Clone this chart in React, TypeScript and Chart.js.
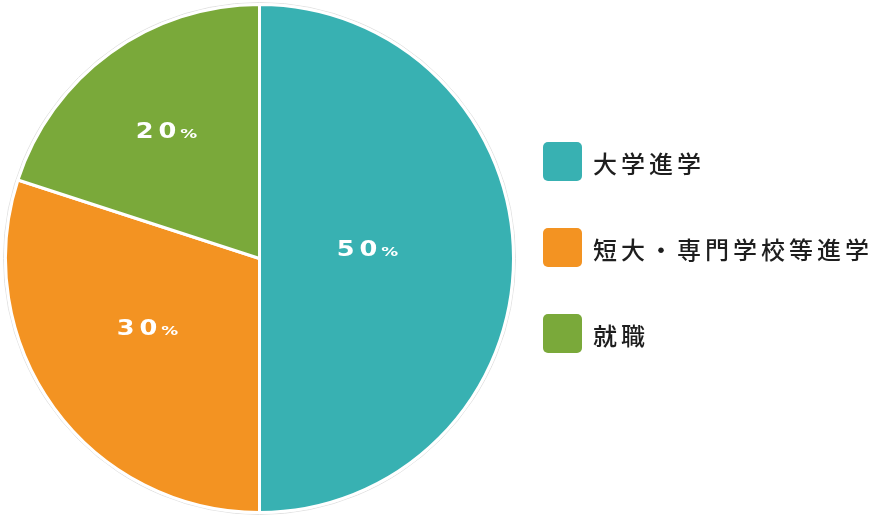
import React, { useEffect, useRef } from "react";
import { Chart, registerables } from "chart.js";

Chart.register(...registerables);

const categories = ["大学進学", "短大・専門学校等進学", "就職"];
const values = [50, 30, 20];
const colors = ["#38b1b2", "#f39322", "#7aa93a"];
// label placement style: radius factor and angle shift (deg) relative to slice middle
const labelRadiusFactors = [0.427, 0.516, 0.623];
const labelAngleShifts = [-5.3, 4.7, 0];

const LEGEND_X = 543;
const LEGEND_TOP = 142;
const LEGEND_BOX = 39;
const LEGEND_ROW = 86;

const NUM_SCALE = 1.22;
const NUM_SPACING = 4;

const overlayPlugin = {
  id: "overlay",
  beforeDatasetsDraw(chart: any) {
    const arc = chart.getDatasetMeta(0).data[0];
    if (!arc) return;
    const { x, y, outerRadius } = arc.getProps(["x", "y", "outerRadius"], true);
    const ctx = chart.ctx;
    ctx.save();
    ctx.beginPath();
    ctx.arc(x, y, outerRadius + 2, 0, Math.PI * 2);
    ctx.strokeStyle = "#e2e2e2";
    ctx.lineWidth = 1;
    ctx.stroke();
    ctx.restore();
  },
  afterDatasetsDraw(chart: any) {
    const ctx = chart.ctx;
    const meta = chart.getDatasetMeta(0);
    const data = chart.data.datasets[0].data as number[];
    const total = data.reduce((a, b) => a + b, 0);
    ctx.save();
    meta.data.forEach((arc: any, i: number) => {
      const { x, y, startAngle, endAngle, outerRadius } = arc.getProps(
        ["x", "y", "startAngle", "endAngle", "outerRadius"],
        true
      );
      const mid = (startAngle + endAngle) / 2 + (labelAngleShifts[i] * Math.PI) / 180;
      const r = outerRadius * labelRadiusFactors[i];
      const cx = x + Math.cos(mid) * r;
      const cy = y + Math.sin(mid) * r;
      const pct = String(Math.round((data[i] / total) * 100));
      ctx.fillStyle = "#ffffff";
      ctx.textBaseline = "alphabetic";
      ctx.textAlign = "left";
      ctx.font = 'bold 21px "DejaVu Sans"';
      (ctx as any).letterSpacing = NUM_SPACING + "px";
      const numW = (ctx.measureText(pct).width - NUM_SPACING) * NUM_SCALE;
      (ctx as any).letterSpacing = "0px";
      const capH = ctx.measureText("0").actualBoundingBoxAscent;
      ctx.font = 'bold 13px "DejaVu Sans"';
      const pctW = ctx.measureText("%").width * 1.3;
      const gap = 4;
      const totalW = numW + gap + pctW;
      const left = cx - totalW / 2;
      const base = cy + capH / 2;
      ctx.save();
      ctx.translate(left, base);
      ctx.scale(NUM_SCALE, 1);
      ctx.font = 'bold 21px "DejaVu Sans"';
      (ctx as any).letterSpacing = NUM_SPACING + "px";
      ctx.fillText(pct, 0, 0);
      ctx.restore();
      (ctx as any).letterSpacing = "0px";
      ctx.font = 'bold 13px "DejaVu Sans"';
      ctx.save();
      ctx.translate(left + numW + gap, base);
      ctx.scale(1.3, 1);
      ctx.fillText("%", 0, 0);
      ctx.restore();
    });
    ctx.restore();
  },
  afterDraw(chart: any) {
    const ctx = chart.ctx;
    const labels = chart.data.labels as string[];
    const bg = chart.data.datasets[0].backgroundColor as string[];
    ctx.save();
    labels.forEach((lab, i) => {
      const top = LEGEND_TOP + i * LEGEND_ROW;
      ctx.beginPath();
      (ctx as any).roundRect(LEGEND_X, top, LEGEND_BOX, LEGEND_BOX, 5);
      ctx.fillStyle = bg[i];
      ctx.fill();
      ctx.fillStyle = "#1e1e1e";
      ctx.font = '500 24px "Noto Sans CJK JP"';
      ctx.textBaseline = "middle";
      ctx.textAlign = "left";
      const chars = Array.from(lab);
      chars.forEach((ch, j) => {
        ctx.fillText(ch, 593 + j * 28, top + LEGEND_BOX / 2 + 2);
      });
    });
    ctx.restore();
  },
};

export default function App() {
  const ref = useRef<HTMLCanvasElement>(null);
  useEffect(() => {
    if (!ref.current) return;
    const chart = new Chart(ref.current, {
      type: "pie",
      data: {
        labels: categories,
        datasets: [
          {
            data: values,
            backgroundColor: colors,
            borderColor: "#ffffff",
            borderWidth: 3,
            hoverOffset: 0,
          },
        ],
      },
      options: {
        responsive: false,
        animation: false,
        layout: { padding: { left: 4, top: 3, bottom: 4, right: 363 } },
        plugins: {
          legend: { display: false },
          tooltip: { enabled: false },
        },
      },
      plugins: [overlayPlugin],
    });
    return () => chart.destroy();
  }, []);
  return (
    <div style={{ position: "fixed", left: 0, top: 0, width: 878, height: 518, background: "#ffffff" }}>
      <canvas ref={ref} width={878} height={518} style={{ display: "block", width: 878, height: 518 }} />
    </div>
  );
}
